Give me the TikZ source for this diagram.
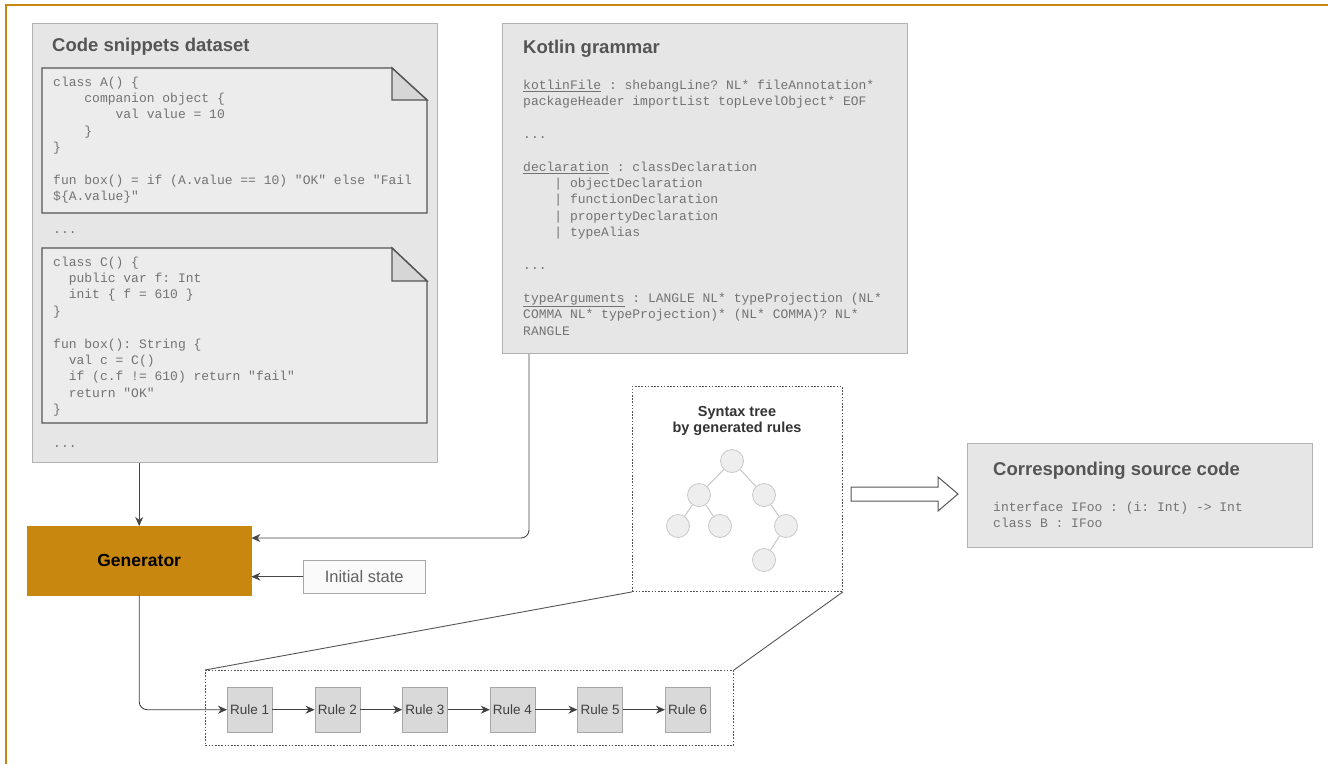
\documentclass[tikz,border=0pt]{standalone}
\usepackage{fontspec}
\setmainfont{Liberation Sans}
\setsansfont{Liberation Sans}
\setmonofont{Liberation Mono}
\usetikzlibrary{arrows.meta,calc}
\definecolor{frameor}{RGB}{200,135,15}
\definecolor{boxfill}{RGB}{230,230,230}
\definecolor{boxline}{RGB}{178,178,178}
\definecolor{notefill}{RGB}{236,236,236}
\definecolor{noteline}{RGB}{85,85,85}
\definecolor{foldfill}{RGB}{214,214,214}
\definecolor{titlegray}{RGB}{85,85,85}
\definecolor{codegray}{RGB}{115,115,115}
\definecolor{arrowgray}{RGB}{70,70,70}
\definecolor{rulefill}{RGB}{217,217,217}
\definecolor{treefill}{RGB}{238,238,238}
\definecolor{treeline}{RGB}{200,200,200}
\newcommand\codefont{\fontsize{13}{16.4}\selectfont\ttfamily}
\newcommand\titlefont{\fontsize{18.5}{22}\selectfont\sffamily\bfseries}
\newcommand\ind[1]{\hphantom{#1}}
\tikzset{
  panel/.style={draw=boxline, fill=boxfill, line width=0.8pt, rectangle, inner sep=0pt, anchor=north west},
  paneltitle/.style={font=\titlefont, text=titlegray, anchor=west, inner sep=0pt},
  codetext/.style={font=\codefont, text=codegray, align=left, anchor=north west, inner sep=0pt},
  conn/.style={draw=arrowgray, line width=0.9pt, -{Stealth[length=9pt,width=8pt]}},
  ruleconn/.style={draw=black!75, line width=0.9pt, -{Stealth[length=9pt,width=8pt]}},
  rulebox/.style={draw=gray!70, fill=rulefill, rectangle, minimum width=45pt, minimum height=45pt, inner sep=0pt, anchor=north west, font=\fontsize{13.5}{15}\selectfont\sffamily, text=black!75},
  treenode/.style={circle, draw=treeline, fill=treefill, minimum size=23pt, inner sep=0pt, line width=0.8pt},
  treeedge/.style={draw=treeline, line width=1pt},
  dotbox/.style={draw=noteline, line width=0.9pt, dash pattern=on 1.6pt off 1.6pt, rectangle, inner sep=0pt, anchor=north west},
  zoomline/.style={draw=noteline, line width=0.9pt},
  notepath/.style={draw=noteline, fill=notefill, line width=1.4pt, line join=miter},
}
\begin{document}
\begin{tikzpicture}[x=1pt,y=-1pt]
\useasboundingbox (0,0) rectangle (1328,764);
\fill[white] (0,0) rectangle (1328,764);
% frame
\draw[frameor, line width=2pt] (6,764) -- (6,5) -- (1328,5);

% Code snippets panel
\node[panel, minimum width=405pt, minimum height=439pt] (codebox) at (32,23) {};
\node[paneltitle] (codetitle) at (52,47) {Code snippets dataset};
\draw[notepath] (42,68) -- (392,68) -- (427,100) -- (427,213) -- (42,213) -- cycle;
\draw[draw=noteline, fill=foldfill, line width=1.4pt, line join=miter] (392,68) -- (392,100) -- (427,100) -- cycle;
\node[codetext] (snip1) at (53,74.5) {\strut class A() \{\\
\ind{xxxx}companion object \{\\
\ind{xxxxxxxx}val value = 10\\
\ind{xxxx}\}\\
\}\\
\mbox{}\\
fun box() = if (A.value == 10) "OK" else "Fail\\
\$\{A.value\}"};
\node[font=\codefont, text=codegray, anchor=base west, inner sep=0pt] (dots1) at (53,233) {...};
\draw[notepath] (42,248) -- (392,248) -- (427,281) -- (427,423) -- (42,423) -- cycle;
\draw[draw=noteline, fill=foldfill, line width=1.4pt, line join=miter] (392,248) -- (392,281) -- (427,281) -- cycle;
\node[codetext] (snip2) at (53,254.5) {\strut class C() \{\\
\ind{xx}public var f: Int\\
\ind{xx}init \{ f = 610 \}\\
\}\\
\mbox{}\\
fun box(): String \{\\
\ind{xx}val c = C()\\
\ind{xx}if (c.f != 610) return "fail"\\
\ind{xx}return "OK"\\
\}};
\node[font=\codefont, text=codegray, anchor=base west, inner sep=0pt] (dots2) at (53,447) {...};

% Kotlin grammar panel
\node[panel, minimum width=405pt, minimum height=330pt] (kot) at (502,23) {};
\node[paneltitle] (kottitle) at (523,49) {Kotlin grammar};
\node[codetext] (gram) at (523,77.5) {\strut\underline{kotlinFile} : shebangLine? NL* fileAnnotation*\\
packageHeader importList topLevelObject* EOF\\
\mbox{}\\
...\\
\mbox{}\\
\underline{declaration} : classDeclaration\\
\ind{xxxx}| objectDeclaration\\
\ind{xxxx}| functionDeclaration\\
\ind{xxxx}| propertyDeclaration\\
\ind{xxxx}| typeAlias\\
\mbox{}\\
...\\
\mbox{}\\
\underline{typeArguments} : LANGLE NL* typeProjection (NL*\\
COMMA NL* typeProjection)* (NL* COMMA)? NL*\\
RANGLE};

% Corresponding source code panel
\node[panel, minimum width=345pt, minimum height=104pt] (src) at (967,443) {};
\node[paneltitle] (srctitle) at (993,471) {Corresponding source code};
\node[codetext] (srccode) at (993,499.5) {\strut interface IFoo : (i: Int) -> Int\\
class B : IFoo};

% Generator and initial state
\node[rectangle, fill=frameor, draw=frameor, minimum width=224pt, minimum height=69pt, inner sep=0pt, anchor=north west] (gen) at (27,526) {};
\node[font=\fontsize{17.5}{20}\selectfont\sffamily\bfseries, text=black, inner sep=0pt] (gentext) at (gen.center) {Generator};
\node[rectangle, draw=gray!70, fill=black!2, minimum width=122pt, minimum height=33pt, inner sep=0pt, anchor=north west, font=\fontsize{16.5}{20}\selectfont\sffamily, text=black!62] (init) at (303,560) {Initial state};

% Syntax tree box
\node[dotbox, minimum width=210pt, minimum height=205pt] (tree) at (632,386) {};
\node[font=\fontsize{14.5}{16.5}\selectfont\sffamily\bfseries, text=black!80, align=center, inner sep=0pt] (treetitle) at (737,421) {Syntax tree\\by generated rules};
\node[treenode] (t0) at (732,461) {};
\node[treenode] (t1) at (699,495) {};
\node[treenode] (t2) at (764,495) {};
\node[treenode] (t3) at (678,526) {};
\node[treenode] (t4) at (720,526) {};
\node[treenode] (t5) at (786,526) {};
\node[treenode] (t6) at (764,560) {};
\draw[treeedge] (t0) -- (t1);
\draw[treeedge] (t0) -- (t2);
\draw[treeedge] (t1) -- (t3);
\draw[treeedge] (t1) -- (t4);
\draw[treeedge] (t2) -- (t5);
\draw[treeedge] (t5) -- (t6);

% hollow arrow
\draw[draw=noteline, fill=white, line width=1pt, line join=miter] (851,487) -- (938,487) -- (938,477) -- (958,494) -- (938,511) -- (938,501) -- (851,501) -- cycle;

% Rules box
\node[dotbox, minimum width=528pt, minimum height=75pt] (rules) at (205,670) {};
\foreach \i in {1,...,6} {
  \node[rulebox] (r\i) at ({227+87.6*(\i-1)},687) {Rule \i};
}
\foreach \i/\j in {1/2,2/3,3/4,4/5,5/6} {
  \draw[ruleconn] (r\i) -- (r\j);
}
\draw[zoomline] (tree.south west) -- (rules.north west);
\draw[zoomline] (tree.south east) -- (rules.north east);

% connectors
\draw[conn] (gen.north |- codebox.south) -- (gen.north);
\coordinate (kf) at ($(kot.south west)+(27,0)$);
\draw[conn, rounded corners=8pt] (kf) |- ($(gen.north east)+(0,12)$);
\draw[conn] (init.west) -- (gen.east |- init.west);
\draw[ruleconn, rounded corners=8pt] (gen.south) |- (r1.west);
\end{tikzpicture}
\end{document}
